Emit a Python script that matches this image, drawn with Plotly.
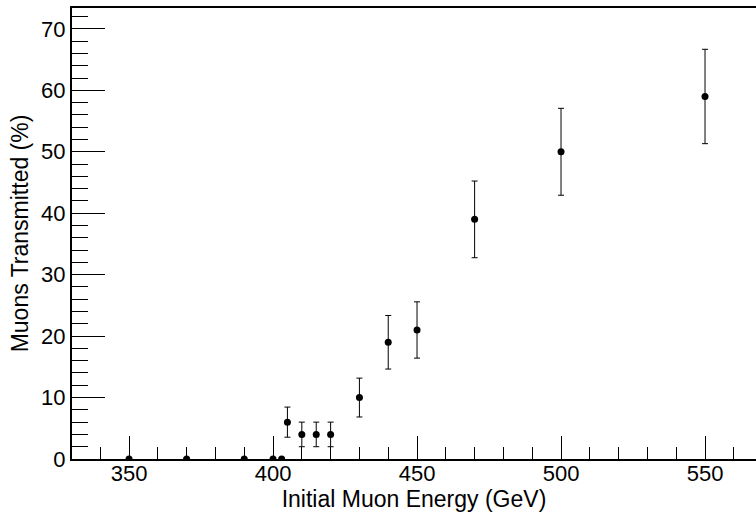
import plotly.graph_objects as go

# Data
energy = [350, 370, 390, 400, 403, 405, 410, 415, 420, 430, 440, 450, 470, 500, 550]
transmitted = [0, 0, 0, 0, 0, 6, 4, 4, 4, 10, 19, 21, 39, 50, 59]
errors = [0, 0, 0, 0, 0, 2.45, 2.0, 2.0, 2.0, 3.16, 4.36, 4.58, 6.24, 7.07, 7.68]

x_tick_vals = [350, 400, 450, 500, 550]
y_tick_vals = [0, 10, 20, 30, 40, 50, 60, 70]
x_title = "Initial Muon Energy (GeV)"
y_title = "Muons Transmitted (%)"

FONT = "Liberation Sans, Arial, Helvetica, sans-serif"

fig = go.Figure(
    go.Scatter(
        x=energy,
        y=transmitted,
        mode="markers",
        marker=dict(color="black", size=7),
        error_y=dict(type="data", array=errors, visible=True,
                     color="black", thickness=1, width=3),
        showlegend=False,
    )
)

fig.update_layout(
    width=756,
    height=512,
    margin=dict(l=72, r=0, t=8, b=53, pad=0),
    paper_bgcolor="white",
    plot_bgcolor="white",
    font=dict(family=FONT, color="black", size=22),
)

fig.update_xaxes(
    range=[330.2, 567.7],
    tickvals=x_tick_vals,
    ticks="inside",
    ticklen=23,
    tickwidth=1,
    tickcolor="black",
    minor=dict(dtick=10, tick0=350, ticks="inside", ticklen=12, tickwidth=1, tickcolor="black"),
    showline=True,
    linecolor="black",
    linewidth=2,
    mirror=True,
    showgrid=False,
    zeroline=False,
    tickfont=dict(size=22),
    ticklabelstandoff=-6,
    title=dict(text=x_title, font=dict(size=23), standoff=0),
    automargin=False,
)

fig.update_yaxes(
    range=[0, 73.4],
    tickvals=y_tick_vals,
    ticks="inside",
    ticklen=33,
    tickwidth=1,
    tickcolor="black",
    minor=dict(dtick=2, tick0=0, ticks="inside", ticklen=16, tickwidth=1, tickcolor="black"),
    showline=True,
    linecolor="black",
    linewidth=2,
    mirror=False,
    showgrid=False,
    zeroline=False,
    tickfont=dict(size=22),
    title=dict(text=y_title, font=dict(size=23), standoff=6),
    automargin=False,
)

html = fig.to_html(include_plotlyjs=True, full_html=True,
                   config={"displayModeBar": False, "staticPlot": True})
html = html.replace("<body>", '<body style="margin:0;padding:0;overflow:hidden">', 1)
with open("out.html", "w", encoding="utf-8") as f:
    f.write(html)
